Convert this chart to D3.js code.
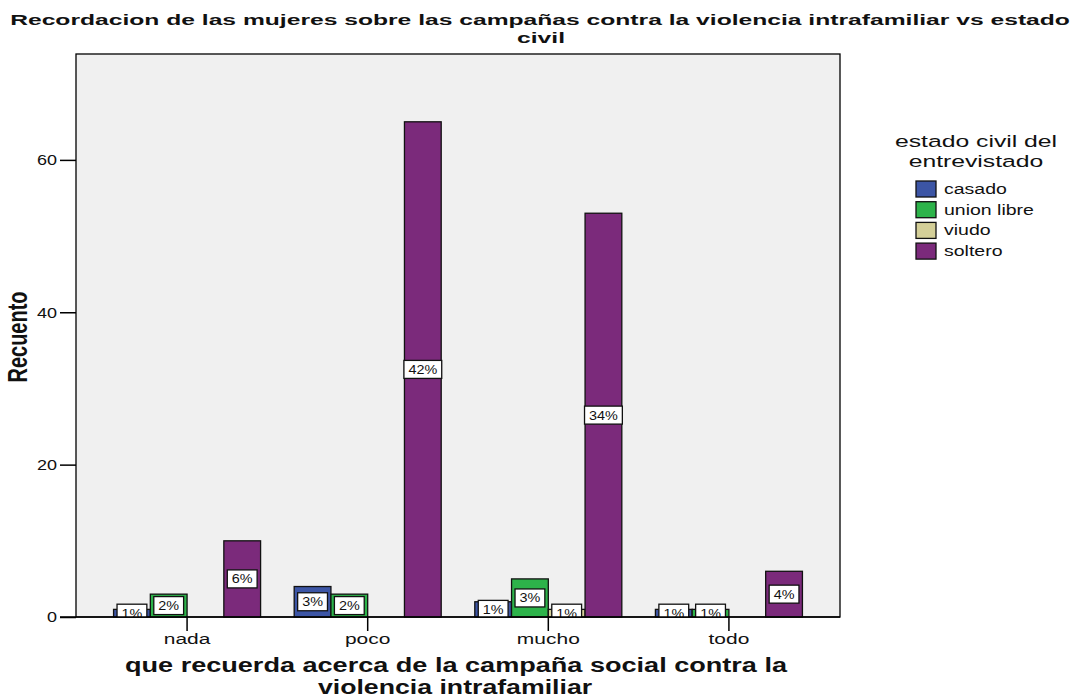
<!DOCTYPE html>
<html>
<head>
<meta charset="utf-8">
<script src="https://cdn.jsdelivr.net/npm/d3@7"></script>
<style>
  body { margin: 0; background: #fff; }
  svg { display: block; font-family: "Liberation Sans", Arial, sans-serif; }
</style>
</head>
<body>
<svg id="chart" width="1080" height="698"></svg>
<script>
// Categories and series
const categories = ["nada", "poco", "mucho", "todo"];
const seriesNames = ["casado", "union libre", "viudo", "soltero"];
const seriesColors = ["#3c55a5", "#2db34a", "#d4cf98", "#7b2a7b"];
// Counts per category, one array per series
const casado     = [1, 4, 2, 1];
const unionLibre = [3, 3, 5, 1];
const viudo      = [0, 0, 1, 0];
const soltero    = [10, 65, 53, 6];
const yTicks = [0, 20, 40, 60];
const yMax = 73.9;

const seriesValues = [casado, unionLibre, viudo, soltero];
const total = d3.sum(seriesValues.flat());

const svg = d3.select("#chart");
const plot = { left: 76, right: 840, top: 54, bottom: 617 };

// Text in this chart uses a wide face; emulate it by stretching glyphs horizontally
function placeText(parent, x, y, str, opts) {
  const t = parent.append("text")
    .attr("transform", `translate(${x},${y}) scale(${opts.sx || 1},1)`)
    .attr("text-anchor", opts.anchor || "middle")
    .attr("font-size", opts.size)
    .attr("font-weight", opts.bold ? "bold" : null)
    .attr("fill", "#111")
    .text(str);
  return t;
}

const x0 = d3.scaleBand().domain(categories)
  .range([plot.left, plot.right]).paddingInner(0.186).paddingOuter(0.208);
const x1 = d3.scaleBand().domain(seriesNames).range([0, x0.bandwidth()]);
const y = d3.scaleLinear().domain([0, yMax]).range([plot.bottom, plot.top]);

// Plot background and frame
svg.append("rect")
  .attr("x", plot.left).attr("y", plot.top)
  .attr("width", plot.right - plot.left).attr("height", plot.bottom - plot.top)
  .attr("fill", "#f0f0f0").attr("stroke", "#000").attr("stroke-width", 1.3);

svg.append("defs").append("clipPath").attr("id", "plotClip")
  .append("rect")
  .attr("x", plot.left).attr("y", plot.top)
  .attr("width", plot.right - plot.left).attr("height", plot.bottom - plot.top);

// Flat records for bars
const records = [];
categories.forEach((c, ci) => {
  seriesNames.forEach((s, si) => {
    records.push({ cat: c, series: s, color: seriesColors[si], value: seriesValues[si][ci] });
  });
});
const shown = records.filter(d => d.value > 0);

const barsG = svg.append("g");
barsG.selectAll("rect").data(shown).join("rect")
  .attr("x", d => x0(d.cat) + x1(d.series))
  .attr("y", d => y(d.value))
  .attr("width", x1.bandwidth())
  .attr("height", d => y(0) - y(d.value))
  .attr("fill", d => d.color)
  .attr("stroke", "#111").attr("stroke-width", 1.3);

// Percentage labels, centred on each bar and clipped to the plot area
const labelsG = svg.append("g").attr("clip-path", "url(#plotClip)");
const labelSx = 1.2;
shown.forEach(d => {
  const txt = Math.round(d.value / total * 100) + "%";
  const cx = x0(d.cat) + x1(d.series) + x1.bandwidth() / 2;
  const cy = (y(d.value) + y(0)) / 2;
  const t = placeText(labelsG, cx, cy + 4.5, txt, { size: 12, sx: labelSx });
  const w = t.node().getComputedTextLength() * labelSx + 9;
  labelsG.insert("rect", () => t.node())
    .attr("x", cx - w / 2).attr("y", cy - 9)
    .attr("width", w).attr("height", 18)
    .attr("fill", "#fff").attr("stroke", "#111").attr("stroke-width", 1.3);
});

// Y axis
const yAxis = d3.axisLeft(y).tickValues(yTicks).tickSize(16).tickPadding(3).tickFormat(d3.format("d"));
const yg = svg.append("g").attr("transform", `translate(${plot.left},0)`).call(yAxis);
yg.select(".domain").remove();
yg.selectAll("line").attr("stroke", "#000").attr("stroke-width", 1.5);
yg.selectAll("text")
  .attr("x", 0).attr("transform", "translate(-19,0) scale(1.2,1)")
  .attr("font-size", 15).attr("fill", "#111")
  .attr("font-family", "Liberation Sans, Arial, sans-serif");

// X axis
const xAxis = d3.axisBottom(x0).tickSize(14).tickPadding(2);
const xg = svg.append("g").attr("transform", `translate(0,${plot.bottom})`).call(xAxis);
xg.select(".domain").remove();
xg.selectAll("line").attr("stroke", "#000").attr("stroke-width", 1.5);
xg.selectAll("text")
  .attr("transform", "scale(1.4,1)")
  .attr("font-size", 15).attr("fill", "#111")
  .attr("font-family", "Liberation Sans, Arial, sans-serif");

// Baseline drawn across the full axis
svg.append("line")
  .attr("x1", 60).attr("x2", plot.right)
  .attr("y1", plot.bottom).attr("y2", plot.bottom)
  .attr("stroke", "#000").attr("stroke-width", 1.5);

// Title
placeText(svg, 540, 24.5,
  "Recordacion de las mujeres sobre las campañas contra la violencia intrafamiliar vs estado",
  { size: 15.5, bold: true, sx: 1.59 });
placeText(svg, 541, 43, "civil", { size: 15.5, bold: true, sx: 1.59 });

// Axis titles
svg.append("text")
  .attr("transform", "translate(27,337) scale(1.38,1) rotate(-90)")
  .attr("text-anchor", "middle")
  .attr("font-size", 20).attr("font-weight", "bold").attr("fill", "#111")
  .text("Recuento");

placeText(svg, 456, 672, "que recuerda acerca de la campaña social contra la",
  { size: 21, bold: true, sx: 1.29 });
placeText(svg, 455, 694, "violencia intrafamiliar", { size: 21, bold: true, sx: 1.27 });

// Legend
const lg = svg.append("g");
placeText(lg, 976, 147, "estado civil del", { size: 16.5, sx: 1.5 });
placeText(lg, 976, 167, "entrevistado", { size: 16.5, sx: 1.5 });

const items = lg.selectAll("g.item").data(seriesNames).join("g")
  .attr("class", "item")
  .attr("transform", (d, i) => `translate(916,${181 + i * 20.7})`);
items.append("rect")
  .attr("width", 20).attr("height", 16)
  .attr("fill", (d, i) => seriesColors[i])
  .attr("stroke", "#111").attr("stroke-width", 1.3);
items.each(function(d) {
  placeText(d3.select(this), 28, 13, d, { size: 15, sx: 1.3, anchor: "start" });
});
</script>
</body>
</html>
